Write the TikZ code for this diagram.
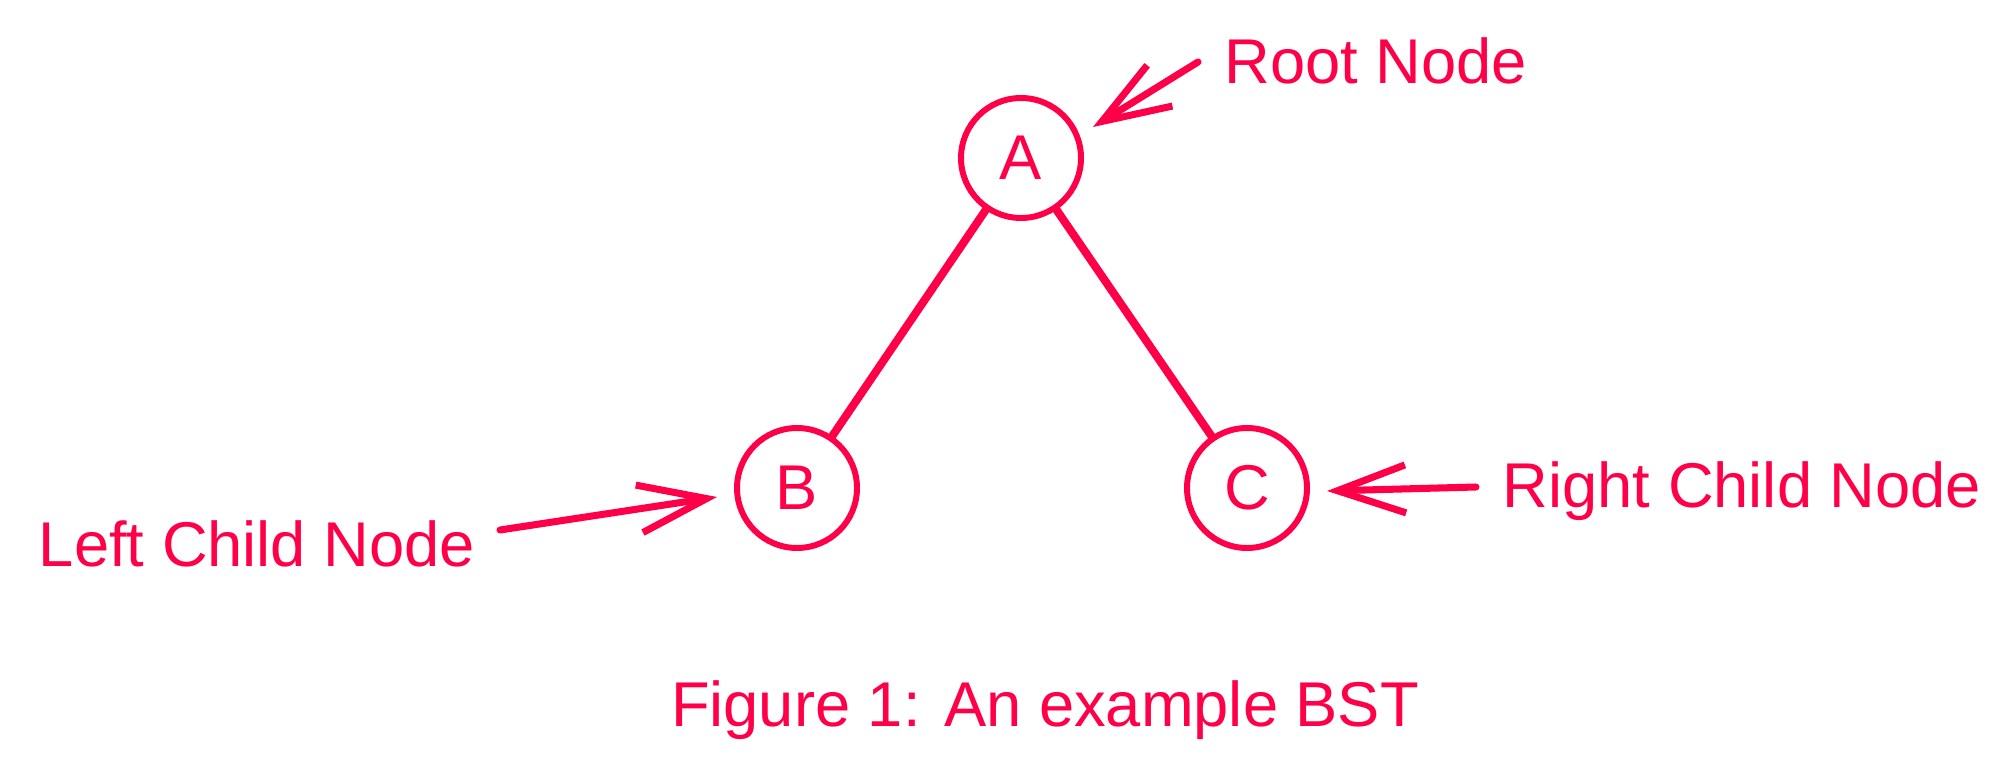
\documentclass[tikz,border=0pt]{standalone}
\usepackage{fontspec}
\setmainfont{Liberation Sans}
\usetikzlibrary{arrows.meta}
\definecolor{bstpink}{HTML}{FF0048}
\tikzset{
	bstnode/.style={circle, draw=bstpink, line width=1.7pt, minimum size=1.2cm, inner sep=0pt, text=bstpink, font=\fontsize{18}{21}\selectfont},
	bstedge/.style={draw=bstpink, line width=2.3pt, line cap=round},
	notearrow/.style={draw=bstpink, line width=2pt, line cap=round, -{Straight Barb[length=6.8mm, width=4.8mm, line width=2pt]}},
	notetext/.style={text=bstpink, anchor=base, inner sep=0pt, font=\fontsize{18}{21}\selectfont}
}

\begin{document}
\begin{tikzpicture}
			%%%%% START %%%%%
			\useasboundingbox (0, 0) rectangle (20.15, -7.77);
			
			\node[bstnode] (A) at (10.21, -1.58) {A};
			\node[bstnode] (B) at (7.97, -4.88) {B};
			\node[bstnode] (C) at (12.47, -4.88) {C};
			
			\draw[bstedge] (A) -- (B);
			\draw[bstedge] (A) -- (C);
			
			\node[notetext] (rootlbl) at (13.76, -0.84) {Root Node};
			\node[notetext] (leftlbl) at (2.57, -5.67) {Left Child Node};
			\node[notetext] (rightlbl) at (17.42, -5.07) {Right Child Node};
			
			\coordinate (roottail) at (11.98, -0.62);
			\coordinate (roothead) at (10.93, -1.27);
			\coordinate (lefttail) at (5.00, -5.30);
			\coordinate (lefthead) at (7.17, -4.97);
			\coordinate (righttail) at (14.76, -4.87);
			\coordinate (righthead) at (13.27, -4.91);
			
			\draw[notearrow] (roottail) -- (roothead);
			\draw[notearrow] (lefttail) -- (lefthead);
			\draw[notearrow] (righttail) -- (righthead);
			
			\node[notetext] (caption) at (10.45, -7.26) {Figure 1: An example BST};
			
			%%%%% END %%%%%
		\end{tikzpicture}
\end{document}
